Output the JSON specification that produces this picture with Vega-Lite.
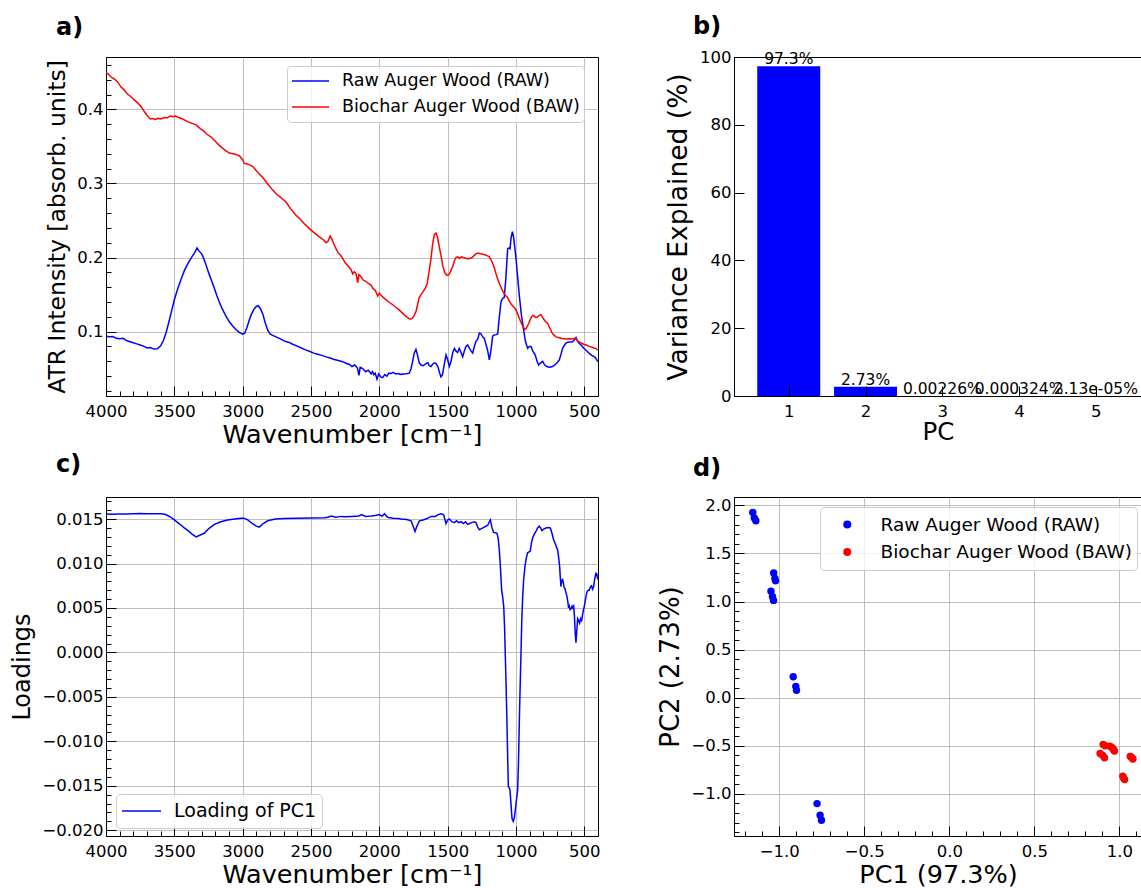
{
  "$schema": "https://vega.github.io/schema/vega-lite/v6.json",
  "autosize": {"type": "pad"},
  "padding": {"left": 10, "top": 14, "right": 0, "bottom": 0},
  "background": "#ffffff",
  "config": {
    "font": "DejaVu Sans",
    "view": {"stroke": "#000000", "strokeWidth": 1},
    "axis": {
      "domainColor": "#000000", "domainWidth": 1, "tickColor": "#000000", "tickWidth": 1,
      "labelColor": "#000000", "labelFontSize": 16.5, "labelFont": "DejaVu Sans",
      "titleFont": "DejaVu Sans", "titleFontWeight": "normal", "titleColor": "#000000", "titleFontSize": 24,
      "gridColor": "#b0b0b0", "gridWidth": 0.8, "labelOverlap": false, "labelFlush": false, "labelBound": false
    },
    "axisX": {"labelPadding": 17, "titlePadding": -2, "titleFontSize": 25.5},
    "axisY": {"labelPadding": 13, "titlePadding": 7},
    "legend": {"labelFont": "DejaVu Sans", "labelColor": "#000000", "labelLimit": 500}
  },
  "datasets": {
    "spectra": [
      {"wavenumber":4000,"absorbance":0.094,"sample":"RAW"},{"wavenumber":3975,"absorbance":0.093,"sample":"RAW"},{"wavenumber":3950,"absorbance":0.0935,"sample":"RAW"},{"wavenumber":3925,"absorbance":0.091,"sample":"RAW"},{"wavenumber":3900,"absorbance":0.0905,"sample":"RAW"},{"wavenumber":3875,"absorbance":0.091,"sample":"RAW"},{"wavenumber":3850,"absorbance":0.088,"sample":"RAW"},{"wavenumber":3825,"absorbance":0.0865,"sample":"RAW"},{"wavenumber":3800,"absorbance":0.085,"sample":"RAW"},{"wavenumber":3775,"absorbance":0.0835,"sample":"RAW"},{"wavenumber":3750,"absorbance":0.082,"sample":"RAW"},{"wavenumber":3725,"absorbance":0.0805,"sample":"RAW"},{"wavenumber":3700,"absorbance":0.078,"sample":"RAW"},{"wavenumber":3675,"absorbance":0.0785,"sample":"RAW"},{"wavenumber":3650,"absorbance":0.0765,"sample":"RAW"},{"wavenumber":3625,"absorbance":0.077,"sample":"RAW"},{"wavenumber":3600,"absorbance":0.081,"sample":"RAW"},{"wavenumber":3580,"absorbance":0.088,"sample":"RAW"},{"wavenumber":3560,"absorbance":0.099,"sample":"RAW"},{"wavenumber":3540,"absorbance":0.113,"sample":"RAW"},{"wavenumber":3520,"absorbance":0.128,"sample":"RAW"},{"wavenumber":3500,"absorbance":0.143,"sample":"RAW"},{"wavenumber":3475,"absorbance":0.158,"sample":"RAW"},{"wavenumber":3450,"absorbance":0.171,"sample":"RAW"},{"wavenumber":3425,"absorbance":0.183,"sample":"RAW"},{"wavenumber":3400,"absorbance":0.192,"sample":"RAW"},{"wavenumber":3375,"absorbance":0.2,"sample":"RAW"},{"wavenumber":3350,"absorbance":0.207,"sample":"RAW"},{"wavenumber":3334,"absorbance":0.213,"sample":"RAW"},{"wavenumber":3320,"absorbance":0.209,"sample":"RAW"},{"wavenumber":3300,"absorbance":0.205,"sample":"RAW"},{"wavenumber":3290,"absorbance":0.201,"sample":"RAW"},{"wavenumber":3270,"absorbance":0.191,"sample":"RAW"},{"wavenumber":3250,"absorbance":0.18,"sample":"RAW"},{"wavenumber":3232,"absorbance":0.171,"sample":"RAW"},{"wavenumber":3210,"absorbance":0.16,"sample":"RAW"},{"wavenumber":3190,"absorbance":0.149,"sample":"RAW"},{"wavenumber":3171,"absorbance":0.14,"sample":"RAW"},{"wavenumber":3150,"absorbance":0.131,"sample":"RAW"},{"wavenumber":3125,"absorbance":0.122,"sample":"RAW"},{"wavenumber":3100,"absorbance":0.114,"sample":"RAW"},{"wavenumber":3075,"absorbance":0.108,"sample":"RAW"},{"wavenumber":3050,"absorbance":0.103,"sample":"RAW"},{"wavenumber":3025,"absorbance":0.099,"sample":"RAW"},{"wavenumber":3000,"absorbance":0.0965,"sample":"RAW"},{"wavenumber":2985,"absorbance":0.098,"sample":"RAW"},{"wavenumber":2970,"absorbance":0.105,"sample":"RAW"},{"wavenumber":2951,"absorbance":0.116,"sample":"RAW"},{"wavenumber":2935,"absorbance":0.124,"sample":"RAW"},{"wavenumber":2915,"absorbance":0.131,"sample":"RAW"},{"wavenumber":2900,"absorbance":0.134,"sample":"RAW"},{"wavenumber":2886,"absorbance":0.135,"sample":"RAW"},{"wavenumber":2870,"absorbance":0.131,"sample":"RAW"},{"wavenumber":2853,"absorbance":0.124,"sample":"RAW"},{"wavenumber":2835,"absorbance":0.112,"sample":"RAW"},{"wavenumber":2817,"absorbance":0.102,"sample":"RAW"},{"wavenumber":2800,"absorbance":0.097,"sample":"RAW"},{"wavenumber":2780,"absorbance":0.095,"sample":"RAW"},{"wavenumber":2756,"absorbance":0.093,"sample":"RAW"},{"wavenumber":2720,"absorbance":0.09,"sample":"RAW"},{"wavenumber":2690,"absorbance":0.087,"sample":"RAW"},{"wavenumber":2660,"absorbance":0.0855,"sample":"RAW"},{"wavenumber":2634,"absorbance":0.083,"sample":"RAW"},{"wavenumber":2600,"absorbance":0.0805,"sample":"RAW"},{"wavenumber":2570,"absorbance":0.078,"sample":"RAW"},{"wavenumber":2540,"absorbance":0.0755,"sample":"RAW"},{"wavenumber":2512,"absorbance":0.0735,"sample":"RAW"},{"wavenumber":2480,"absorbance":0.071,"sample":"RAW"},{"wavenumber":2450,"absorbance":0.0695,"sample":"RAW"},{"wavenumber":2420,"absorbance":0.068,"sample":"RAW"},{"wavenumber":2390,"absorbance":0.066,"sample":"RAW"},{"wavenumber":2360,"absorbance":0.0645,"sample":"RAW"},{"wavenumber":2330,"absorbance":0.0625,"sample":"RAW"},{"wavenumber":2300,"absorbance":0.061,"sample":"RAW"},{"wavenumber":2268,"absorbance":0.0595,"sample":"RAW"},{"wavenumber":2240,"absorbance":0.057,"sample":"RAW"},{"wavenumber":2220,"absorbance":0.056,"sample":"RAW"},{"wavenumber":2200,"absorbance":0.053,"sample":"RAW"},{"wavenumber":2180,"absorbance":0.055,"sample":"RAW"},{"wavenumber":2160,"absorbance":0.051,"sample":"RAW"},{"wavenumber":2149,"absorbance":0.041,"sample":"RAW"},{"wavenumber":2140,"absorbance":0.052,"sample":"RAW"},{"wavenumber":2120,"absorbance":0.05,"sample":"RAW"},{"wavenumber":2100,"absorbance":0.046,"sample":"RAW"},{"wavenumber":2080,"absorbance":0.048,"sample":"RAW"},{"wavenumber":2060,"absorbance":0.043,"sample":"RAW"},{"wavenumber":2050,"absorbance":0.046,"sample":"RAW"},{"wavenumber":2040,"absorbance":0.042,"sample":"RAW"},{"wavenumber":2030,"absorbance":0.044,"sample":"RAW"},{"wavenumber":2017,"absorbance":0.036,"sample":"RAW"},{"wavenumber":2005,"absorbance":0.043,"sample":"RAW"},{"wavenumber":1990,"absorbance":0.039,"sample":"RAW"},{"wavenumber":1976,"absorbance":0.038,"sample":"RAW"},{"wavenumber":1960,"absorbance":0.042,"sample":"RAW"},{"wavenumber":1945,"absorbance":0.04,"sample":"RAW"},{"wavenumber":1930,"absorbance":0.044,"sample":"RAW"},{"wavenumber":1915,"absorbance":0.0435,"sample":"RAW"},{"wavenumber":1900,"absorbance":0.045,"sample":"RAW"},{"wavenumber":1880,"absorbance":0.043,"sample":"RAW"},{"wavenumber":1860,"absorbance":0.0435,"sample":"RAW"},{"wavenumber":1842,"absorbance":0.0424,"sample":"RAW"},{"wavenumber":1820,"absorbance":0.043,"sample":"RAW"},{"wavenumber":1800,"absorbance":0.0432,"sample":"RAW"},{"wavenumber":1781,"absorbance":0.044,"sample":"RAW"},{"wavenumber":1768,"absorbance":0.05,"sample":"RAW"},{"wavenumber":1756,"absorbance":0.06,"sample":"RAW"},{"wavenumber":1745,"absorbance":0.071,"sample":"RAW"},{"wavenumber":1732,"absorbance":0.076,"sample":"RAW"},{"wavenumber":1720,"absorbance":0.068,"sample":"RAW"},{"wavenumber":1708,"absorbance":0.058,"sample":"RAW"},{"wavenumber":1695,"absorbance":0.055,"sample":"RAW"},{"wavenumber":1680,"absorbance":0.054,"sample":"RAW"},{"wavenumber":1659,"absorbance":0.057,"sample":"RAW"},{"wavenumber":1645,"absorbance":0.058,"sample":"RAW"},{"wavenumber":1635,"absorbance":0.054,"sample":"RAW"},{"wavenumber":1622,"absorbance":0.053,"sample":"RAW"},{"wavenumber":1610,"absorbance":0.056,"sample":"RAW"},{"wavenumber":1598,"absorbance":0.058,"sample":"RAW"},{"wavenumber":1585,"absorbance":0.057,"sample":"RAW"},{"wavenumber":1570,"absorbance":0.052,"sample":"RAW"},{"wavenumber":1560,"absorbance":0.045,"sample":"RAW"},{"wavenumber":1549,"absorbance":0.039,"sample":"RAW"},{"wavenumber":1538,"absorbance":0.042,"sample":"RAW"},{"wavenumber":1525,"absorbance":0.056,"sample":"RAW"},{"wavenumber":1512,"absorbance":0.0685,"sample":"RAW"},{"wavenumber":1500,"absorbance":0.062,"sample":"RAW"},{"wavenumber":1488,"absorbance":0.053,"sample":"RAW"},{"wavenumber":1475,"absorbance":0.06,"sample":"RAW"},{"wavenumber":1463,"absorbance":0.072,"sample":"RAW"},{"wavenumber":1451,"absorbance":0.0775,"sample":"RAW"},{"wavenumber":1440,"absorbance":0.074,"sample":"RAW"},{"wavenumber":1427,"absorbance":0.072,"sample":"RAW"},{"wavenumber":1415,"absorbance":0.0775,"sample":"RAW"},{"wavenumber":1402,"absorbance":0.072,"sample":"RAW"},{"wavenumber":1390,"absorbance":0.066,"sample":"RAW"},{"wavenumber":1378,"absorbance":0.074,"sample":"RAW"},{"wavenumber":1366,"absorbance":0.08,"sample":"RAW"},{"wavenumber":1354,"absorbance":0.082,"sample":"RAW"},{"wavenumber":1342,"absorbance":0.078,"sample":"RAW"},{"wavenumber":1330,"absorbance":0.074,"sample":"RAW"},{"wavenumber":1317,"absorbance":0.071,"sample":"RAW"},{"wavenumber":1305,"absorbance":0.08,"sample":"RAW"},{"wavenumber":1293,"absorbance":0.087,"sample":"RAW"},{"wavenumber":1280,"absorbance":0.09,"sample":"RAW"},{"wavenumber":1268,"absorbance":0.098,"sample":"RAW"},{"wavenumber":1256,"absorbance":0.097,"sample":"RAW"},{"wavenumber":1244,"absorbance":0.093,"sample":"RAW"},{"wavenumber":1232,"absorbance":0.091,"sample":"RAW"},{"wavenumber":1220,"absorbance":0.083,"sample":"RAW"},{"wavenumber":1208,"absorbance":0.075,"sample":"RAW"},{"wavenumber":1195,"absorbance":0.062,"sample":"RAW"},{"wavenumber":1183,"absorbance":0.075,"sample":"RAW"},{"wavenumber":1171,"absorbance":0.094,"sample":"RAW"},{"wavenumber":1159,"absorbance":0.0955,"sample":"RAW"},{"wavenumber":1146,"absorbance":0.096,"sample":"RAW"},{"wavenumber":1134,"absorbance":0.097,"sample":"RAW"},{"wavenumber":1122,"absorbance":0.12,"sample":"RAW"},{"wavenumber":1110,"absorbance":0.14,"sample":"RAW"},{"wavenumber":1098,"absorbance":0.145,"sample":"RAW"},{"wavenumber":1086,"absorbance":0.146,"sample":"RAW"},{"wavenumber":1075,"absorbance":0.17,"sample":"RAW"},{"wavenumber":1061,"absorbance":0.212,"sample":"RAW"},{"wavenumber":1050,"absorbance":0.213,"sample":"RAW"},{"wavenumber":1044,"absorbance":0.212,"sample":"RAW"},{"wavenumber":1035,"absorbance":0.228,"sample":"RAW"},{"wavenumber":1026,"absorbance":0.235,"sample":"RAW"},{"wavenumber":1018,"absorbance":0.228,"sample":"RAW"},{"wavenumber":1008,"absorbance":0.212,"sample":"RAW"},{"wavenumber":1000,"absorbance":0.199,"sample":"RAW"},{"wavenumber":990,"absorbance":0.178,"sample":"RAW"},{"wavenumber":976,"absorbance":0.149,"sample":"RAW"},{"wavenumber":960,"absorbance":0.122,"sample":"RAW"},{"wavenumber":946,"absorbance":0.1045,"sample":"RAW"},{"wavenumber":930,"absorbance":0.086,"sample":"RAW"},{"wavenumber":915,"absorbance":0.0775,"sample":"RAW"},{"wavenumber":903,"absorbance":0.08,"sample":"RAW"},{"wavenumber":890,"absorbance":0.08,"sample":"RAW"},{"wavenumber":878,"absorbance":0.074,"sample":"RAW"},{"wavenumber":859,"absorbance":0.0685,"sample":"RAW"},{"wavenumber":846,"absorbance":0.06,"sample":"RAW"},{"wavenumber":834,"absorbance":0.055,"sample":"RAW"},{"wavenumber":820,"absorbance":0.058,"sample":"RAW"},{"wavenumber":805,"absorbance":0.06,"sample":"RAW"},{"wavenumber":790,"absorbance":0.055,"sample":"RAW"},{"wavenumber":775,"absorbance":0.053,"sample":"RAW"},{"wavenumber":755,"absorbance":0.052,"sample":"RAW"},{"wavenumber":732,"absorbance":0.053,"sample":"RAW"},{"wavenumber":710,"absorbance":0.056,"sample":"RAW"},{"wavenumber":695,"absorbance":0.059,"sample":"RAW"},{"wavenumber":683,"absorbance":0.0618,"sample":"RAW"},{"wavenumber":670,"absorbance":0.07,"sample":"RAW"},{"wavenumber":659,"absorbance":0.0775,"sample":"RAW"},{"wavenumber":645,"absorbance":0.082,"sample":"RAW"},{"wavenumber":634,"absorbance":0.0845,"sample":"RAW"},{"wavenumber":622,"absorbance":0.0856,"sample":"RAW"},{"wavenumber":605,"absorbance":0.0862,"sample":"RAW"},{"wavenumber":585,"absorbance":0.0865,"sample":"RAW"},{"wavenumber":573,"absorbance":0.089,"sample":"RAW"},{"wavenumber":561,"absorbance":0.092,"sample":"RAW"},{"wavenumber":550,"absorbance":0.087,"sample":"RAW"},{"wavenumber":536,"absorbance":0.084,"sample":"RAW"},{"wavenumber":524,"absorbance":0.082,"sample":"RAW"},{"wavenumber":505,"absorbance":0.078,"sample":"RAW"},{"wavenumber":488,"absorbance":0.075,"sample":"RAW"},{"wavenumber":476,"absorbance":0.073,"sample":"RAW"},{"wavenumber":460,"absorbance":0.07,"sample":"RAW"},{"wavenumber":445,"absorbance":0.068,"sample":"RAW"},{"wavenumber":427,"absorbance":0.066,"sample":"RAW"},{"wavenumber":415,"absorbance":0.064,"sample":"RAW"},{"wavenumber":402,"absorbance":0.0595,"sample":"RAW"},
      {"wavenumber":4000,"absorbance":0.45,"sample":"BAW"},{"wavenumber":3980,"absorbance":0.447,"sample":"BAW"},{"wavenumber":3960,"absorbance":0.443,"sample":"BAW"},{"wavenumber":3940,"absorbance":0.441,"sample":"BAW"},{"wavenumber":3915,"absorbance":0.437,"sample":"BAW"},{"wavenumber":3890,"absorbance":0.43,"sample":"BAW"},{"wavenumber":3870,"absorbance":0.427,"sample":"BAW"},{"wavenumber":3845,"absorbance":0.421,"sample":"BAW"},{"wavenumber":3817,"absorbance":0.417,"sample":"BAW"},{"wavenumber":3790,"absorbance":0.412,"sample":"BAW"},{"wavenumber":3770,"absorbance":0.409,"sample":"BAW"},{"wavenumber":3744,"absorbance":0.404,"sample":"BAW"},{"wavenumber":3720,"absorbance":0.397,"sample":"BAW"},{"wavenumber":3700,"absorbance":0.392,"sample":"BAW"},{"wavenumber":3676,"absorbance":0.387,"sample":"BAW"},{"wavenumber":3655,"absorbance":0.3875,"sample":"BAW"},{"wavenumber":3640,"absorbance":0.386,"sample":"BAW"},{"wavenumber":3620,"absorbance":0.388,"sample":"BAW"},{"wavenumber":3598,"absorbance":0.387,"sample":"BAW"},{"wavenumber":3575,"absorbance":0.389,"sample":"BAW"},{"wavenumber":3550,"absorbance":0.3885,"sample":"BAW"},{"wavenumber":3530,"absorbance":0.391,"sample":"BAW"},{"wavenumber":3512,"absorbance":0.39,"sample":"BAW"},{"wavenumber":3490,"absorbance":0.391,"sample":"BAW"},{"wavenumber":3470,"absorbance":0.389,"sample":"BAW"},{"wavenumber":3451,"absorbance":0.388,"sample":"BAW"},{"wavenumber":3430,"absorbance":0.386,"sample":"BAW"},{"wavenumber":3400,"absorbance":0.383,"sample":"BAW"},{"wavenumber":3370,"absorbance":0.381,"sample":"BAW"},{"wavenumber":3341,"absorbance":0.379,"sample":"BAW"},{"wavenumber":3310,"absorbance":0.374,"sample":"BAW"},{"wavenumber":3280,"absorbance":0.37,"sample":"BAW"},{"wavenumber":3260,"absorbance":0.366,"sample":"BAW"},{"wavenumber":3232,"absorbance":0.363,"sample":"BAW"},{"wavenumber":3200,"absorbance":0.357,"sample":"BAW"},{"wavenumber":3175,"absorbance":0.352,"sample":"BAW"},{"wavenumber":3150,"absorbance":0.348,"sample":"BAW"},{"wavenumber":3122,"absorbance":0.344,"sample":"BAW"},{"wavenumber":3098,"absorbance":0.341,"sample":"BAW"},{"wavenumber":3070,"absorbance":0.34,"sample":"BAW"},{"wavenumber":3050,"absorbance":0.339,"sample":"BAW"},{"wavenumber":3025,"absorbance":0.3375,"sample":"BAW"},{"wavenumber":3000,"absorbance":0.332,"sample":"BAW"},{"wavenumber":2988,"absorbance":0.327,"sample":"BAW"},{"wavenumber":2960,"absorbance":0.326,"sample":"BAW"},{"wavenumber":2927,"absorbance":0.323,"sample":"BAW"},{"wavenumber":2900,"absorbance":0.317,"sample":"BAW"},{"wavenumber":2880,"absorbance":0.313,"sample":"BAW"},{"wavenumber":2853,"absorbance":0.308,"sample":"BAW"},{"wavenumber":2820,"absorbance":0.3,"sample":"BAW"},{"wavenumber":2780,"absorbance":0.291,"sample":"BAW"},{"wavenumber":2750,"absorbance":0.285,"sample":"BAW"},{"wavenumber":2720,"absorbance":0.281,"sample":"BAW"},{"wavenumber":2683,"absorbance":0.275,"sample":"BAW"},{"wavenumber":2650,"absorbance":0.266,"sample":"BAW"},{"wavenumber":2610,"absorbance":0.257,"sample":"BAW"},{"wavenumber":2580,"absorbance":0.252,"sample":"BAW"},{"wavenumber":2550,"absorbance":0.246,"sample":"BAW"},{"wavenumber":2512,"absorbance":0.239,"sample":"BAW"},{"wavenumber":2480,"absorbance":0.234,"sample":"BAW"},{"wavenumber":2439,"absorbance":0.228,"sample":"BAW"},{"wavenumber":2410,"absorbance":0.224,"sample":"BAW"},{"wavenumber":2390,"absorbance":0.22,"sample":"BAW"},{"wavenumber":2375,"absorbance":0.222,"sample":"BAW"},{"wavenumber":2360,"absorbance":0.229,"sample":"BAW"},{"wavenumber":2345,"absorbance":0.224,"sample":"BAW"},{"wavenumber":2330,"absorbance":0.217,"sample":"BAW"},{"wavenumber":2317,"absorbance":0.212,"sample":"BAW"},{"wavenumber":2300,"absorbance":0.206,"sample":"BAW"},{"wavenumber":2285,"absorbance":0.2035,"sample":"BAW"},{"wavenumber":2268,"absorbance":0.199,"sample":"BAW"},{"wavenumber":2250,"absorbance":0.193,"sample":"BAW"},{"wavenumber":2235,"absorbance":0.19,"sample":"BAW"},{"wavenumber":2220,"absorbance":0.187,"sample":"BAW"},{"wavenumber":2207,"absorbance":0.184,"sample":"BAW"},{"wavenumber":2195,"absorbance":0.178,"sample":"BAW"},{"wavenumber":2183,"absorbance":0.181,"sample":"BAW"},{"wavenumber":2170,"absorbance":0.178,"sample":"BAW"},{"wavenumber":2158,"absorbance":0.166,"sample":"BAW"},{"wavenumber":2150,"absorbance":0.177,"sample":"BAW"},{"wavenumber":2134,"absorbance":0.174,"sample":"BAW"},{"wavenumber":2120,"absorbance":0.17,"sample":"BAW"},{"wavenumber":2100,"absorbance":0.168,"sample":"BAW"},{"wavenumber":2080,"absorbance":0.165,"sample":"BAW"},{"wavenumber":2061,"absorbance":0.163,"sample":"BAW"},{"wavenumber":2045,"absorbance":0.158,"sample":"BAW"},{"wavenumber":2030,"absorbance":0.156,"sample":"BAW"},{"wavenumber":2012,"absorbance":0.148,"sample":"BAW"},{"wavenumber":2000,"absorbance":0.152,"sample":"BAW"},{"wavenumber":1988,"absorbance":0.149,"sample":"BAW"},{"wavenumber":1970,"absorbance":0.146,"sample":"BAW"},{"wavenumber":1950,"absorbance":0.143,"sample":"BAW"},{"wavenumber":1930,"absorbance":0.14,"sample":"BAW"},{"wavenumber":1915,"absorbance":0.138,"sample":"BAW"},{"wavenumber":1900,"absorbance":0.136,"sample":"BAW"},{"wavenumber":1880,"absorbance":0.133,"sample":"BAW"},{"wavenumber":1860,"absorbance":0.13,"sample":"BAW"},{"wavenumber":1842,"absorbance":0.127,"sample":"BAW"},{"wavenumber":1820,"absorbance":0.123,"sample":"BAW"},{"wavenumber":1800,"absorbance":0.12,"sample":"BAW"},{"wavenumber":1785,"absorbance":0.118,"sample":"BAW"},{"wavenumber":1773,"absorbance":0.117,"sample":"BAW"},{"wavenumber":1760,"absorbance":0.118,"sample":"BAW"},{"wavenumber":1745,"absorbance":0.122,"sample":"BAW"},{"wavenumber":1732,"absorbance":0.127,"sample":"BAW"},{"wavenumber":1718,"absorbance":0.138,"sample":"BAW"},{"wavenumber":1708,"absorbance":0.146,"sample":"BAW"},{"wavenumber":1695,"absorbance":0.15,"sample":"BAW"},{"wavenumber":1680,"absorbance":0.154,"sample":"BAW"},{"wavenumber":1665,"absorbance":0.158,"sample":"BAW"},{"wavenumber":1650,"absorbance":0.165,"sample":"BAW"},{"wavenumber":1635,"absorbance":0.182,"sample":"BAW"},{"wavenumber":1622,"absorbance":0.199,"sample":"BAW"},{"wavenumber":1610,"absorbance":0.218,"sample":"BAW"},{"wavenumber":1598,"absorbance":0.231,"sample":"BAW"},{"wavenumber":1585,"absorbance":0.233,"sample":"BAW"},{"wavenumber":1575,"absorbance":0.228,"sample":"BAW"},{"wavenumber":1562,"absorbance":0.215,"sample":"BAW"},{"wavenumber":1549,"absorbance":0.203,"sample":"BAW"},{"wavenumber":1535,"absorbance":0.188,"sample":"BAW"},{"wavenumber":1520,"absorbance":0.179,"sample":"BAW"},{"wavenumber":1505,"absorbance":0.176,"sample":"BAW"},{"wavenumber":1490,"absorbance":0.177,"sample":"BAW"},{"wavenumber":1475,"absorbance":0.183,"sample":"BAW"},{"wavenumber":1463,"absorbance":0.188,"sample":"BAW"},{"wavenumber":1450,"absorbance":0.196,"sample":"BAW"},{"wavenumber":1440,"absorbance":0.2,"sample":"BAW"},{"wavenumber":1427,"absorbance":0.201,"sample":"BAW"},{"wavenumber":1415,"absorbance":0.199,"sample":"BAW"},{"wavenumber":1400,"absorbance":0.201,"sample":"BAW"},{"wavenumber":1385,"absorbance":0.2,"sample":"BAW"},{"wavenumber":1366,"absorbance":0.199,"sample":"BAW"},{"wavenumber":1350,"absorbance":0.198,"sample":"BAW"},{"wavenumber":1335,"absorbance":0.199,"sample":"BAW"},{"wavenumber":1320,"absorbance":0.2,"sample":"BAW"},{"wavenumber":1305,"absorbance":0.203,"sample":"BAW"},{"wavenumber":1293,"absorbance":0.205,"sample":"BAW"},{"wavenumber":1275,"absorbance":0.206,"sample":"BAW"},{"wavenumber":1256,"absorbance":0.205,"sample":"BAW"},{"wavenumber":1235,"absorbance":0.204,"sample":"BAW"},{"wavenumber":1215,"absorbance":0.203,"sample":"BAW"},{"wavenumber":1195,"absorbance":0.201,"sample":"BAW"},{"wavenumber":1183,"absorbance":0.197,"sample":"BAW"},{"wavenumber":1170,"absorbance":0.192,"sample":"BAW"},{"wavenumber":1158,"absorbance":0.186,"sample":"BAW"},{"wavenumber":1146,"absorbance":0.178,"sample":"BAW"},{"wavenumber":1134,"absorbance":0.171,"sample":"BAW"},{"wavenumber":1122,"absorbance":0.165,"sample":"BAW"},{"wavenumber":1110,"absorbance":0.16,"sample":"BAW"},{"wavenumber":1098,"absorbance":0.155,"sample":"BAW"},{"wavenumber":1086,"absorbance":0.151,"sample":"BAW"},{"wavenumber":1073,"absorbance":0.148,"sample":"BAW"},{"wavenumber":1061,"absorbance":0.146,"sample":"BAW"},{"wavenumber":1048,"absorbance":0.141,"sample":"BAW"},{"wavenumber":1035,"absorbance":0.137,"sample":"BAW"},{"wavenumber":1020,"absorbance":0.134,"sample":"BAW"},{"wavenumber":1005,"absorbance":0.131,"sample":"BAW"},{"wavenumber":990,"absorbance":0.125,"sample":"BAW"},{"wavenumber":976,"absorbance":0.118,"sample":"BAW"},{"wavenumber":960,"absorbance":0.111,"sample":"BAW"},{"wavenumber":946,"absorbance":0.106,"sample":"BAW"},{"wavenumber":935,"absorbance":0.103,"sample":"BAW"},{"wavenumber":927,"absorbance":0.104,"sample":"BAW"},{"wavenumber":915,"absorbance":0.108,"sample":"BAW"},{"wavenumber":903,"absorbance":0.113,"sample":"BAW"},{"wavenumber":890,"absorbance":0.119,"sample":"BAW"},{"wavenumber":878,"absorbance":0.122,"sample":"BAW"},{"wavenumber":866,"absorbance":0.121,"sample":"BAW"},{"wavenumber":854,"absorbance":0.119,"sample":"BAW"},{"wavenumber":842,"absorbance":0.12,"sample":"BAW"},{"wavenumber":830,"absorbance":0.122,"sample":"BAW"},{"wavenumber":817,"absorbance":0.123,"sample":"BAW"},{"wavenumber":805,"absorbance":0.119,"sample":"BAW"},{"wavenumber":790,"absorbance":0.115,"sample":"BAW"},{"wavenumber":780,"absorbance":0.113,"sample":"BAW"},{"wavenumber":768,"absorbance":0.111,"sample":"BAW"},{"wavenumber":750,"absorbance":0.104,"sample":"BAW"},{"wavenumber":735,"absorbance":0.098,"sample":"BAW"},{"wavenumber":720,"absorbance":0.095,"sample":"BAW"},{"wavenumber":707,"absorbance":0.093,"sample":"BAW"},{"wavenumber":690,"absorbance":0.092,"sample":"BAW"},{"wavenumber":670,"absorbance":0.091,"sample":"BAW"},{"wavenumber":650,"absorbance":0.0905,"sample":"BAW"},{"wavenumber":634,"absorbance":0.09,"sample":"BAW"},{"wavenumber":610,"absorbance":0.0905,"sample":"BAW"},{"wavenumber":590,"absorbance":0.09,"sample":"BAW"},{"wavenumber":575,"absorbance":0.091,"sample":"BAW"},{"wavenumber":561,"absorbance":0.09,"sample":"BAW"},{"wavenumber":545,"absorbance":0.087,"sample":"BAW"},{"wavenumber":525,"absorbance":0.085,"sample":"BAW"},{"wavenumber":505,"absorbance":0.083,"sample":"BAW"},{"wavenumber":488,"absorbance":0.082,"sample":"BAW"},{"wavenumber":470,"absorbance":0.0805,"sample":"BAW"},{"wavenumber":450,"absorbance":0.0795,"sample":"BAW"},{"wavenumber":430,"absorbance":0.078,"sample":"BAW"},{"wavenumber":415,"absorbance":0.0775,"sample":"BAW"},{"wavenumber":402,"absorbance":0.075,"sample":"BAW"}
    ],
    "loading": [
      {"wavenumber":4000,"loading":0.01556},{"wavenumber":3950,"loading":0.01555},{"wavenumber":3900,"loading":0.01557},{"wavenumber":3850,"loading":0.01558},{"wavenumber":3800,"loading":0.0156},{"wavenumber":3750,"loading":0.01562},{"wavenumber":3700,"loading":0.0156},{"wavenumber":3650,"loading":0.0156},{"wavenumber":3598,"loading":0.0156},{"wavenumber":3570,"loading":0.01555},{"wavenumber":3549,"loading":0.0154},{"wavenumber":3525,"loading":0.0152},{"wavenumber":3500,"loading":0.0149},{"wavenumber":3475,"loading":0.0146},{"wavenumber":3450,"loading":0.0143},{"wavenumber":3427,"loading":0.014},{"wavenumber":3400,"loading":0.0137},{"wavenumber":3370,"loading":0.0133},{"wavenumber":3341,"loading":0.013},{"wavenumber":3310,"loading":0.0132},{"wavenumber":3281,"loading":0.0134},{"wavenumber":3250,"loading":0.0139},{"wavenumber":3207,"loading":0.0144},{"wavenumber":3160,"loading":0.0147},{"wavenumber":3110,"loading":0.0149},{"wavenumber":3060,"loading":0.015},{"wavenumber":3012,"loading":0.0151},{"wavenumber":2990,"loading":0.0151},{"wavenumber":2963,"loading":0.0149},{"wavenumber":2930,"loading":0.0145},{"wavenumber":2900,"loading":0.0142},{"wavenumber":2878,"loading":0.0141},{"wavenumber":2850,"loading":0.0145},{"wavenumber":2817,"loading":0.0148},{"wavenumber":2760,"loading":0.015},{"wavenumber":2695,"loading":0.01505},{"wavenumber":2600,"loading":0.0151},{"wavenumber":2500,"loading":0.01512},{"wavenumber":2400,"loading":0.01515},{"wavenumber":2378,"loading":0.0152},{"wavenumber":2350,"loading":0.01535},{"wavenumber":2320,"loading":0.0152},{"wavenumber":2280,"loading":0.0153},{"wavenumber":2250,"loading":0.01525},{"wavenumber":2200,"loading":0.0153},{"wavenumber":2150,"loading":0.01535},{"wavenumber":2130,"loading":0.0155},{"wavenumber":2100,"loading":0.0153},{"wavenumber":2060,"loading":0.01535},{"wavenumber":2030,"loading":0.0154},{"wavenumber":2000,"loading":0.0155},{"wavenumber":1980,"loading":0.0153},{"wavenumber":1963,"loading":0.0156},{"wavenumber":1940,"loading":0.0152},{"wavenumber":1900,"loading":0.0151},{"wavenumber":1860,"loading":0.01505},{"wavenumber":1842,"loading":0.015},{"wavenumber":1800,"loading":0.01495},{"wavenumber":1768,"loading":0.0148},{"wavenumber":1755,"loading":0.0143},{"wavenumber":1739,"loading":0.0136},{"wavenumber":1725,"loading":0.0142},{"wavenumber":1707,"loading":0.0148},{"wavenumber":1680,"loading":0.0149},{"wavenumber":1660,"loading":0.015},{"wavenumber":1646,"loading":0.0151},{"wavenumber":1620,"loading":0.0153},{"wavenumber":1590,"loading":0.0153},{"wavenumber":1570,"loading":0.0155},{"wavenumber":1549,"loading":0.0156},{"wavenumber":1530,"loading":0.0155},{"wavenumber":1512,"loading":0.0145},{"wavenumber":1500,"loading":0.0149},{"wavenumber":1488,"loading":0.015},{"wavenumber":1470,"loading":0.0147},{"wavenumber":1451,"loading":0.0146},{"wavenumber":1435,"loading":0.0148},{"wavenumber":1420,"loading":0.0146},{"wavenumber":1402,"loading":0.0147},{"wavenumber":1385,"loading":0.0145},{"wavenumber":1370,"loading":0.0147},{"wavenumber":1354,"loading":0.0144},{"wavenumber":1340,"loading":0.0145},{"wavenumber":1325,"loading":0.0146},{"wavenumber":1305,"loading":0.0147},{"wavenumber":1293,"loading":0.0146},{"wavenumber":1280,"loading":0.0141},{"wavenumber":1268,"loading":0.0138},{"wavenumber":1256,"loading":0.0139},{"wavenumber":1232,"loading":0.0141},{"wavenumber":1207,"loading":0.0143},{"wavenumber":1195,"loading":0.0147},{"wavenumber":1188,"loading":0.0149},{"wavenumber":1175,"loading":0.014},{"wavenumber":1164,"loading":0.0135},{"wavenumber":1150,"loading":0.01345},{"wavenumber":1139,"loading":0.0134},{"wavenumber":1130,"loading":0.0128},{"wavenumber":1122,"loading":0.0115},{"wavenumber":1113,"loading":0.0093},{"wavenumber":1105,"loading":0.007},{"wavenumber":1098,"loading":0.0063},{"wavenumber":1090,"loading":0.0052},{"wavenumber":1084,"loading":0.003},{"wavenumber":1078,"loading":-0.0005},{"wavenumber":1072,"loading":-0.004},{"wavenumber":1066,"loading":-0.008},{"wavenumber":1060,"loading":-0.0125},{"wavenumber":1056,"loading":-0.0151},{"wavenumber":1050,"loading":-0.0152},{"wavenumber":1044,"loading":-0.0155},{"wavenumber":1036,"loading":-0.0172},{"wavenumber":1029,"loading":-0.0187},{"wavenumber":1020,"loading":-0.019},{"wavenumber":1012,"loading":-0.0186},{"wavenumber":1005,"loading":-0.0177},{"wavenumber":996,"loading":-0.0165},{"wavenumber":988,"loading":-0.0155},{"wavenumber":982,"loading":-0.0125},{"wavenumber":976,"loading":-0.008},{"wavenumber":970,"loading":-0.004},{"wavenumber":964,"loading":-0.0005},{"wavenumber":958,"loading":0.0035},{"wavenumber":951,"loading":0.0063},{"wavenumber":944,"loading":0.0082},{"wavenumber":934,"loading":0.0097},{"wavenumber":925,"loading":0.0106},{"wavenumber":915,"loading":0.0112},{"wavenumber":905,"loading":0.0113},{"wavenumber":896,"loading":0.0114},{"wavenumber":888,"loading":0.0122},{"wavenumber":878,"loading":0.0129},{"wavenumber":866,"loading":0.0133},{"wavenumber":854,"loading":0.0136},{"wavenumber":842,"loading":0.014},{"wavenumber":830,"loading":0.0142},{"wavenumber":820,"loading":0.014},{"wavenumber":810,"loading":0.0137},{"wavenumber":795,"loading":0.0139},{"wavenumber":780,"loading":0.014},{"wavenumber":765,"loading":0.01405},{"wavenumber":749,"loading":0.014},{"wavenumber":737,"loading":0.0134},{"wavenumber":725,"loading":0.0127},{"wavenumber":710,"loading":0.0121},{"wavenumber":695,"loading":0.0115},{"wavenumber":688,"loading":0.0107},{"wavenumber":681,"loading":0.0097},{"wavenumber":676,"loading":0.0085},{"wavenumber":671,"loading":0.0074},{"wavenumber":665,"loading":0.0081},{"wavenumber":659,"loading":0.0082},{"wavenumber":652,"loading":0.0077},{"wavenumber":648,"loading":0.0073},{"wavenumber":642,"loading":0.0072},{"wavenumber":634,"loading":0.0067},{"wavenumber":627,"loading":0.0063},{"wavenumber":620,"loading":0.0056},{"wavenumber":615,"loading":0.005},{"wavenumber":610,"loading":0.0052},{"wavenumber":604,"loading":0.0048},{"wavenumber":598,"loading":0.0049},{"wavenumber":590,"loading":0.0052},{"wavenumber":585,"loading":0.005},{"wavenumber":578,"loading":0.0052},{"wavenumber":572,"loading":0.004},{"wavenumber":566,"loading":0.002},{"wavenumber":561,"loading":0.0011},{"wavenumber":555,"loading":0.0025},{"wavenumber":549,"loading":0.0038},{"wavenumber":542,"loading":0.0036},{"wavenumber":535,"loading":0.0033},{"wavenumber":527,"loading":0.0038},{"wavenumber":520,"loading":0.0036},{"wavenumber":510,"loading":0.0045},{"wavenumber":500,"loading":0.0052},{"wavenumber":490,"loading":0.0061},{"wavenumber":481,"loading":0.0068},{"wavenumber":472,"loading":0.007},{"wavenumber":464,"loading":0.007},{"wavenumber":455,"loading":0.0074},{"wavenumber":447,"loading":0.0075},{"wavenumber":440,"loading":0.0071},{"wavenumber":432,"loading":0.0074},{"wavenumber":425,"loading":0.0082},{"wavenumber":415,"loading":0.0089},{"wavenumber":408,"loading":0.0088},{"wavenumber":402,"loading":0.0082}
    ],
    "variance": [
      {"pc":1,"variance":97.3,"label":"97.3%"},
      {"pc":2,"variance":2.73,"label":"2.73%"},
      {"pc":3,"variance":0.00226,"label":"0.00226%"},
      {"pc":4,"variance":0.000324,"label":"0.000324%"},
      {"pc":5,"variance":0.0000213,"label":"2.13e-05%"}
    ],
    "scores": [
      {"pc1":-1.156,"pc2":1.927,"sample":"RAW"},{"pc1":-1.147,"pc2":1.869,"sample":"RAW"},{"pc1":-1.138,"pc2":1.84,"sample":"RAW"},
      {"pc1":-1.033,"pc2":1.298,"sample":"RAW"},{"pc1":-1.026,"pc2":1.24,"sample":"RAW"},{"pc1":-1.022,"pc2":1.215,"sample":"RAW"},
      {"pc1":-1.049,"pc2":1.107,"sample":"RAW"},{"pc1":-1.04,"pc2":1.049,"sample":"RAW"},{"pc1":-1.034,"pc2":1.012,"sample":"RAW"},
      {"pc1":-0.918,"pc2":0.218,"sample":"RAW"},{"pc1":-0.903,"pc2":0.118,"sample":"RAW"},{"pc1":-0.899,"pc2":0.078,"sample":"RAW"},
      {"pc1":-0.778,"pc2":-1.101,"sample":"RAW"},{"pc1":-0.76,"pc2":-1.222,"sample":"RAW"},{"pc1":-0.752,"pc2":-1.274,"sample":"RAW"},
      {"pc1":0.905,"pc2":-0.487,"sample":"BAW"},{"pc1":0.917,"pc2":-0.5,"sample":"BAW"},{"pc1":0.887,"pc2":-0.58,"sample":"BAW"},
      {"pc1":0.903,"pc2":-0.6,"sample":"BAW"},{"pc1":0.913,"pc2":-0.625,"sample":"BAW"},{"pc1":0.945,"pc2":-0.505,"sample":"BAW"},
      {"pc1":0.958,"pc2":-0.52,"sample":"BAW"},{"pc1":0.972,"pc2":-0.555,"sample":"BAW"},{"pc1":0.966,"pc2":-0.54,"sample":"BAW"},
      {"pc1":1.02,"pc2":-0.815,"sample":"BAW"},{"pc1":1.031,"pc2":-0.85,"sample":"BAW"},{"pc1":1.025,"pc2":-0.835,"sample":"BAW"},
      {"pc1":1.064,"pc2":-0.61,"sample":"BAW"},{"pc1":1.08,"pc2":-0.637,"sample":"BAW"},{"pc1":1.072,"pc2":-0.622,"sample":"BAW"}
    ]
  },
  "columns": 2,
  "bounds": "flush",
  "spacing": {"row": 101, "column": 136},
  "resolve": {"scale": {"color": "independent"}, "legend": {"color": "independent"}},
  "concat": [
    {
      "width": 492, "height": 339,
      "title": {"text": "a)", "anchor": "start", "frame": "group", "dx": -50, "offset": -2, "baseline": "alphabetic", "fontSize": 24, "fontWeight": "bold", "font": "DejaVu Sans", "color": "#000000"},
      "data": {"name": "spectra"},
      "mark": {"type": "line", "strokeWidth": 1.5, "clip": true},
      "encoding": {
        "x": {"field": "wavenumber", "type": "quantitative",
          "scale": {"domain": [400, 4000], "reverse": true, "nice": false, "zero": false},
          "axis": {"title": "Wavenumber [cm⁻¹]", "format": "d",
            "values": [4000,3900,3800,3700,3600,3500,3400,3300,3200,3100,3000,2900,2800,2700,2600,2500,2400,2300,2200,2100,2000,1900,1800,1700,1600,1500,1400,1300,1200,1100,1000,900,800,700,600,500],
            "labelExpr": "datum.value % 500 === 0 ? datum.label : ''",
            "tickSize": {"condition": {"test": "datum.value % 500 === 0", "value": -10}, "value": -5},
            "gridOpacity": {"condition": {"test": "datum.value % 500 === 0", "value": 1}, "value": 0}}},
        "y": {"field": "absorbance", "type": "quantitative",
          "scale": {"domain": [0.0132, 0.4706], "nice": false, "zero": false},
          "axis": {"title": "ATR Intensity [absorb. units]", "format": ".1f", "titleFontSize": 23.5,
            "values": [0.02,0.04,0.06,0.08,0.1,0.12,0.14,0.16,0.18,0.2,0.22,0.24,0.26,0.28,0.3,0.32,0.34,0.36,0.38,0.4,0.42,0.44,0.46],
            "labelExpr": "abs(datum.value*10 - round(datum.value*10)) < 1e-6 ? datum.label : ''",
            "tickSize": {"condition": {"test": "abs(datum.value*10 - round(datum.value*10)) < 1e-6", "value": -10}, "value": -5},
            "gridOpacity": {"condition": {"test": "abs(datum.value*10 - round(datum.value*10)) < 1e-6", "value": 1}, "value": 0}}},
        "color": {"field": "sample", "type": "nominal",
          "scale": {"domain": ["RAW", "BAW"], "range": ["#0000ff", "#ff0000"]},
          "legend": {"title": null, "orient": "none", "legendX": 181, "legendY": 9,
            "symbolType": "stroke", "symbolSize": 1369, "symbolStrokeWidth": 1.5,
            "labelFontSize": 17.5, "clipHeight": 22, "rowPadding": 4, "padding": 4, "labelOffset": 12,
            "strokeColor": "#cccccc", "fillColor": "rgba(255,255,255,0.8)", "cornerRadius": 4,
            "labelExpr": "datum.label == 'RAW' ? 'Raw Auger Wood (RAW)' : 'Biochar Auger Wood (BAW)'"}}
      }
    },
    {
      "width": 408, "height": 339,
      "title": {"text": "b)", "anchor": "start", "frame": "group", "dx": -41, "offset": -9, "baseline": "alphabetic", "fontSize": 24, "fontWeight": "bold", "font": "DejaVu Sans", "color": "#000000"},
      "data": {"name": "variance"},
      "encoding": {
        "x": {"field": "pc", "type": "quantitative",
          "scale": {"domain": [0.352, 5.536], "nice": false, "zero": false},
          "axis": {"title": "PC", "format": "d", "values": [1,2,3,4,5], "tickSize": -10, "grid": false, "zindex": 1, "titleFontSize": 24.5, "titlePadding": 1}},
        "y": {"field": "variance", "type": "quantitative",
          "scale": {"domain": [0, 100], "nice": false},
          "axis": {"title": "Variance Explained (%)", "values": [0,20,40,60,80,100], "tickSize": -10, "grid": false, "zindex": 1, "titleFontSize": 26.5}}
      },
      "layer": [
        {"mark": {"type": "bar", "width": 63, "color": "#0000ff"}},
        {"transform": [{"filter": "datum.pc <= 2"}],
         "mark": {"type": "text", "baseline": "alphabetic", "dy": -2, "fontSize": 15.5, "color": "#000000"},
         "encoding": {"text": {"field": "label", "type": "nominal"}}},
        {"transform": [{"filter": "datum.pc > 2"}],
         "mark": {"type": "text", "baseline": "alphabetic", "dy": -2, "fontSize": 15.5, "color": "#000000", "clip": true},
         "encoding": {"text": {"field": "label", "type": "nominal"}}}
      ]
    },
    {
      "width": 492, "height": 339,
      "title": {"text": "c)", "anchor": "start", "frame": "group", "dx": -50, "offset": -2.5, "baseline": "alphabetic", "fontSize": 24, "fontWeight": "bold", "font": "DejaVu Sans", "color": "#000000"},
      "data": {"name": "loading"},
      "mark": {"type": "line", "strokeWidth": 1.5, "clip": true},
      "encoding": {
        "x": {"field": "wavenumber", "type": "quantitative",
          "scale": {"domain": [400, 4000], "reverse": true, "nice": false, "zero": false},
          "axis": {"title": "Wavenumber [cm⁻¹]", "format": "d",
            "values": [4000,3900,3800,3700,3600,3500,3400,3300,3200,3100,3000,2900,2800,2700,2600,2500,2400,2300,2200,2100,2000,1900,1800,1700,1600,1500,1400,1300,1200,1100,1000,900,800,700,600,500],
            "labelExpr": "datum.value % 500 === 0 ? datum.label : ''",
            "tickSize": {"condition": {"test": "datum.value % 500 === 0", "value": -10}, "value": -5},
            "gridOpacity": {"condition": {"test": "datum.value % 500 === 0", "value": 1}, "value": 0}}},
        "y": {"field": "loading", "type": "quantitative",
          "scale": {"domain": [-0.02065, 0.01748], "nice": false, "zero": false},
          "axis": {"title": "Loadings", "format": ".3f",
            "values": [-0.02,-0.019,-0.018,-0.017,-0.016,-0.015,-0.014,-0.013,-0.012,-0.011,-0.01,-0.009,-0.008,-0.007,-0.006,-0.005,-0.004,-0.003,-0.002,-0.001,0,0.001,0.002,0.003,0.004,0.005,0.006,0.007,0.008,0.009,0.01,0.011,0.012,0.013,0.014,0.015,0.016,0.017],
            "labelExpr": "abs(datum.value*200 - round(datum.value*200)) < 1e-6 ? datum.label : ''",
            "tickSize": {"condition": {"test": "abs(datum.value*200 - round(datum.value*200)) < 1e-6", "value": -10}, "value": -5},
            "gridOpacity": {"condition": {"test": "abs(datum.value*200 - round(datum.value*200)) < 1e-6", "value": 1}, "value": 0}}},
        "color": {"datum": "Loading of PC1", "type": "nominal",
          "scale": {"range": ["#0000ff"]},
          "legend": {"title": null, "orient": "none", "legendX": 10, "legendY": 297,
            "symbolType": "stroke", "symbolSize": 1521, "symbolStrokeWidth": 1.5,
            "labelFontSize": 19, "clipHeight": 24, "padding": 5, "labelOffset": 12,
            "strokeColor": "#cccccc", "fillColor": "rgba(255,255,255,0.8)", "cornerRadius": 4}}
      }
    },
    {
      "width": 408, "height": 339,
      "title": {"text": "d)", "anchor": "start", "frame": "group", "dx": -41, "offset": -2.5, "baseline": "alphabetic", "fontSize": 24, "fontWeight": "bold", "font": "DejaVu Sans", "color": "#000000"},
      "data": {"name": "scores"},
      "mark": {"type": "point", "filled": true, "size": 55, "opacity": 1},
      "encoding": {
        "x": {"field": "pc1", "type": "quantitative",
          "scale": {"domain": [-1.2665, 1.1335], "nice": false, "zero": false},
          "axis": {"title": "PC1 (97.3%)", "format": ".1f",
            "values": [-1.2,-1.1,-1,-0.9,-0.8,-0.7,-0.6,-0.5,-0.4,-0.3,-0.2,-0.1,0,0.1,0.2,0.3,0.4,0.5,0.6,0.7,0.8,0.9,1,1.1],
            "labelExpr": "abs(datum.value*2 - round(datum.value*2)) < 1e-6 ? datum.label : ''",
            "tickSize": {"condition": {"test": "abs(datum.value*2 - round(datum.value*2)) < 1e-6", "value": -10}, "value": -5},
            "gridOpacity": {"condition": {"test": "abs(datum.value*2 - round(datum.value*2)) < 1e-6", "value": 1}, "value": 0}}},
        "y": {"field": "pc2", "type": "quantitative",
          "scale": {"domain": [-1.438, 2.087], "nice": false, "zero": false},
          "axis": {"title": "PC2 (2.73%)", "format": ".1f", "titleFontSize": 26,
            "values": [-1.4,-1.3,-1.2,-1.1,-1,-0.9,-0.8,-0.7,-0.6,-0.5,-0.4,-0.3,-0.2,-0.1,0,0.1,0.2,0.3,0.4,0.5,0.6,0.7,0.8,0.9,1,1.1,1.2,1.3,1.4,1.5,1.6,1.7,1.8,1.9,2],
            "labelExpr": "abs(datum.value*2 - round(datum.value*2)) < 1e-6 ? datum.label : ''",
            "tickSize": {"condition": {"test": "abs(datum.value*2 - round(datum.value*2)) < 1e-6", "value": -10}, "value": -5},
            "gridOpacity": {"condition": {"test": "abs(datum.value*2 - round(datum.value*2)) < 1e-6", "value": 1}, "value": 0}}},
        "color": {"field": "sample", "type": "nominal",
          "scale": {"domain": ["RAW", "BAW"], "range": ["#0000ff", "#ff0000"]},
          "legend": {"title": null, "orient": "none", "legendX": 86, "legendY": 10,
            "symbolType": "circle", "symbolSize": 64, "symbolStrokeWidth": 0, "symbolOffset": 13,
            "labelFontSize": 18.5, "clipHeight": 25, "rowPadding": 2.4, "padding": 5, "labelOffset": 24,
            "strokeColor": "#cccccc", "fillColor": "rgba(255,255,255,0.8)", "cornerRadius": 4,
            "labelExpr": "datum.label == 'RAW' ? 'Raw Auger Wood (RAW)' : 'Biochar Auger Wood (BAW)'"}}
      }
    }
  ]
}
